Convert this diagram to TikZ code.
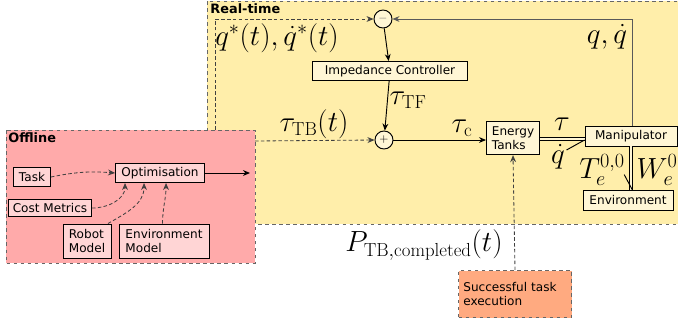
\documentclass[tikz,border=0pt]{standalone}
\usepackage{fontspec}
\setsansfont{DejaVu Sans}
\usetikzlibrary{arrows.meta}
\definecolor{rtyellow}{HTML}{FFEEAA}
\definecolor{offpink}{HTML}{FFAAAA}
\definecolor{boxcream}{HTML}{FFF6D5}
\definecolor{boxpink}{HTML}{FFD5D5}
\definecolor{taskorange}{HTML}{FFAA80}
\begin{document}
\begin{tikzpicture}[x=0.03cm, y=-0.03cm, >={Stealth[length=6pt,width=5pt]},
    blk/.style={draw, line width=0.8pt, fill=boxcream, font=\sffamily\fontsize{10.3}{11.8}\selectfont, inner sep=1.5pt},
    oblk/.style={blk, fill=boxpink},
    sumc/.style={draw, circle, line width=0.8pt, fill=boxcream, minimum size=0.54cm, inner sep=0pt},
    area/.style={draw=black!60, dashed, line width=0.8pt},
    dl/.style={densely dashed, black!75, line width=0.7pt},
    cl/.style={line width=0.8pt},
    big/.style={font=\fontsize{23}{26}\selectfont, inner sep=0pt}]
            \useasboundingbox (0,0) rectangle (678,322);
            \draw[area, fill=rtyellow] (207,1) rectangle (690,224);
            \node[name=rt, anchor=north west, font=\sffamily\bfseries\fontsize{11}{12}\selectfont, inner sep=1pt] at (209,2) (rt) {Real-time};
            \coordinate (qs) at (215,130);
            \coordinate (tb) at (255,141);
            \draw[area, fill=offpink] (6,130) rectangle (255,263);
            \node[name=off, anchor=north west, font=\sffamily\bfseries\fontsize{11}{12}\selectfont, inner sep=1pt] at (7,131) (off) {Offline};

            \node[name=minus, sumc] at (383,19) (minus) {\textcolor{black!60}{$-$}};
            \node[name=imp, blk, minimum width=4.65cm, minimum height=0.57cm] at (390,71) (imp) {Impedance Controller};
            \node[name=plus, sumc] at (384,140) (plus) {$+$};
            \node[name=tanks, blk, align=left, minimum width=1.59cm, minimum height=1cm] at (513,138) (tanks) {Energy\\Tanks};
            \node[name=man, blk, minimum width=2.76cm, minimum height=0.6cm] at (631,136) (man) {Manipulator};
            \node[name=env, blk, minimum width=2.7cm, minimum height=0.6cm] at (628,200) (env) {Environment};
            \node[name=succ, blk, area, draw=black!60, fill=taskorange, align=left, minimum width=3.39cm, minimum height=1.41cm, text width=3.1cm] at (515,294) (succ) {Successful task\\execution};

            \node[name=task, oblk, minimum width=1.11cm, minimum height=0.57cm] at (32,177) (task) {Task};
            \node[name=opt, oblk, minimum width=2.67cm, minimum height=0.57cm] at (160,173) (opt) {Optimisation};
            \node[name=cost, oblk, minimum width=2.49cm, minimum height=0.51cm] at (50,208) (cost) {Cost Metrics};
            \node[name=robot, oblk, align=left, minimum width=1.44cm, minimum height=1.02cm] at (87,241) (robot) {Robot\\Model};
            \node[name=envm, oblk, align=left, minimum width=2.7cm, minimum height=1.02cm] at (164,241) (envm) {Environment\\Model};
            \coordinate (optout) at (250,173);

            \draw[->, black!65, cl] (man.north -| 632,0) |- (minus.east);
            \draw[dl, ->] (qs) |- (minus.west);
            \draw[->, cl] (minus) -- (imp);
            \draw[->, cl] (imp) -- (plus);
            \draw[dl, ->] (tb) -- (plus.west);
            \draw[->, cl] (plus) -- (plus -| tanks.west);
            \draw[cl, double=boxcream, double distance=1.6pt] (tanks.east |- 0,139) -- (man.west |- 0,139);
            \draw[cl] (man.west |- 0,140) -- ++(-18,10);
            \draw[cl, double=boxcream, double distance=1.6pt] (man.south) -- (man.south |- env.north);
            \draw[cl] ([xshift=1pt]man.south |- env.north) -- ++(-8,-15);
            \draw[dl, ->] (succ.north) -- (tanks.south);

            \draw[->, cl] (opt) -- (optout);
            \draw[dl, ->] (task.east) to[bend left=8] (opt.west);
            \draw[dl, ->] (cost.east) to[out=0, in=-90] ([xshift=0.3cm]opt.south west);
            \draw[dl, ->] ([xshift=-3pt]robot.north east) to[out=30, in=-90] ([xshift=0.87cm]opt.south west);
            \draw[dl, ->] ([xshift=1.32cm]envm.north west) to[out=90, in=-90] ([xshift=1.53cm]opt.south west);

            \node[name=lq, big] at (607,37) (lq) {$q,\dot q$};
            \node[name=lqs, big] at (277,38) (lqs) {$q^*(t),\dot q^*(t)$};
            \node[name=ltf, big] at (408,100) (ltf) {$\tau_\mathrm{TF}$};
            \node[name=ltb, big] at (314,124) (ltb) {$\tau_\mathrm{TB}(t)$};
            \node[name=lc, big] at (462,128) (lc) {$\tau_\mathrm{c}$};
            \node[name=lt, big] at (562,124) (lt) {$\tau$};
            \node[name=lqd, big] at (558,157) (lqd) {$\dot q$};
            \node[name=lT, big] at (602,170) (lT) {$T_e^{0,0}$};
            \node[name=lW, big] at (657,170) (lW) {$W_e^0$};
            \node[name=lP, big] at (424,245) (lP) {$P_{\mathrm{TB,completed}}(t)$};
        \end{tikzpicture}
\end{document}
